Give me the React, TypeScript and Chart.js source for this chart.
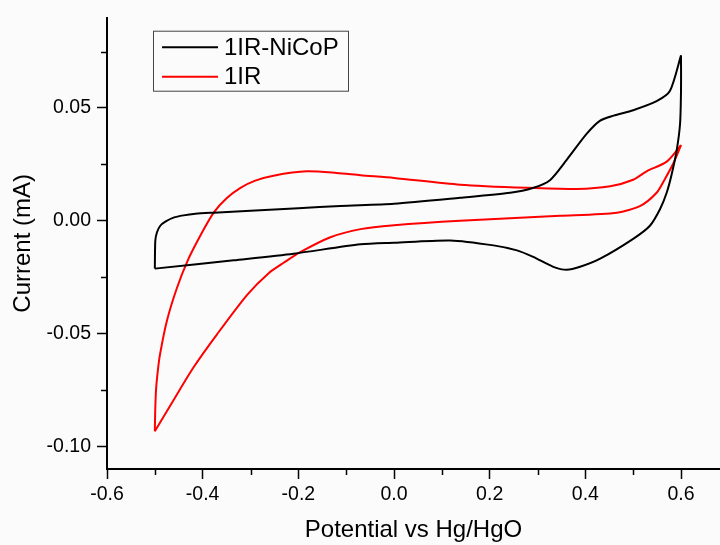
import React, { useEffect, useRef } from "react";
import { Chart, registerables } from "chart.js";

Chart.register(...registerables);

// ---- Data ----
const seriesNames = ["1IR-NiCoP", "1IR"];
const seriesColors = ["#000000", "#ff0000"];

// 1IR-NiCoP : anodic sweep (-0.5 -> 0.6)
const nicopFwdX = [-0.5, -0.499, -0.4955, -0.4886, -0.478, -0.461, -0.44, -0.415, -0.377, -0.3, -0.2, -0.112, 0.0, 0.138, 0.243, 0.29, 0.326, 0.361, 0.403, 0.431, 0.459, 0.5, 0.549, 0.577, 0.6];
const nicopFwdY = [-0.0212, -0.0088, -0.0051, -0.0022, -0.0004, 0.0014, 0.0024, 0.0031, 0.0036, 0.0045, 0.0056, 0.0066, 0.0076, 0.0102, 0.0124, 0.0145, 0.018, 0.027, 0.0386, 0.0444, 0.0466, 0.049, 0.053, 0.0576, 0.0733];
// 1IR-NiCoP : cathodic sweep (0.6 -> -0.5)
const nicopRevX = [0.6, 0.6, 0.598, 0.591, 0.581, 0.57, 0.556, 0.535, 0.5, 0.431, 0.389, 0.361, 0.333, 0.291, 0.257, 0.208, 0.118, 0.0, -0.07, -0.21, -0.335, -0.5];
const nicopRevY = [0.0733, 0.058, 0.043, 0.0313, 0.0211, 0.0124, 0.0051, -0.0022, -0.008, -0.0168, -0.0204, -0.0217, -0.0204, -0.016, -0.0131, -0.0109, -0.0087, -0.0097, -0.0104, -0.0146, -0.0175, -0.0212];

// 1IR : anodic sweep (-0.5 -> 0.6)
const irFwdX = [-0.5, -0.4993, -0.4975, -0.4935, -0.489, -0.475, -0.454, -0.43, -0.405, -0.377, -0.35, -0.321, -0.29, -0.252, -0.182, -0.12, -0.07, 0.0, 0.138, 0.278, 0.382, 0.452, 0.5, 0.528, 0.57, 0.6];
const irFwdY = [-0.0933, -0.085, -0.075, -0.066, -0.059, -0.0445, -0.0299, -0.017, -0.0066, 0.0036, 0.01, 0.0146, 0.0178, 0.02, 0.0219, 0.0212, 0.0202, 0.019, 0.016, 0.0146, 0.0141, 0.0153, 0.0182, 0.0219, 0.0262, 0.0335];
// 1IR : cathodic sweep (0.6 -> -0.5)
const irRevX = [0.6, 0.584, 0.565, 0.549, 0.515, 0.466, 0.347, 0.138, 0.0, -0.07, -0.133, -0.196, -0.23, -0.262, -0.307, -0.37, -0.419, -0.461, -0.5];
const irRevY = [0.0335, 0.0255, 0.018, 0.0124, 0.0066, 0.0036, 0.0022, 0.0, -0.002, -0.0037, -0.0073, -0.0139, -0.0185, -0.0232, -0.0328, -0.0503, -0.0649, -0.0795, -0.0933];

const xTickValues = [-0.6, -0.4, -0.2, 0.0, 0.2, 0.4, 0.6];
const xTickLabels = ["-0.6", "-0.4", "-0.2", "0.0", "0.2", "0.4", "0.6"];
const xMinorTicks = [-0.5, -0.3, -0.1, 0.1, 0.3, 0.5];
const yTickValues = [-0.1, -0.05, 0.0, 0.05];
const yTickLabels = ["-0.10", "-0.05", "0.00", "0.05"];
const yMinorTicks = [-0.075, -0.025, 0.025, 0.075];

const xTitle = "Potential vs Hg/HgO";
const yTitle = "Current (mA)";

const toPoints = (xs: number[], ys: number[]) => xs.map((x, i) => ({ x, y: ys[i] }));

const FONT = "'Liberation Sans', Arial, sans-serif";

const bgPlugin = {
  id: "bg",
  beforeDraw(chart: any) {
    const ctx = chart.ctx;
    ctx.save();
    ctx.fillStyle = "#fbfbfb";
    ctx.fillRect(0, 0, chart.width, chart.height);
    ctx.restore();
  },
};

const minorTickPlugin = {
  id: "minorTicks",
  afterDraw(chart: any) {
    const ctx = chart.ctx;
    const xs = chart.scales.x;
    const ys = chart.scales.y;
    const ca = chart.chartArea;
    ctx.save();
    ctx.strokeStyle = "#000";
    ctx.lineWidth = 1.5;
    ctx.beginPath();
    xMinorTicks.forEach((v) => {
      const px = Math.round(xs.getPixelForValue(v)) + 0.5;
      ctx.moveTo(px, ca.bottom);
      ctx.lineTo(px, ca.bottom + 6);
    });
    yMinorTicks.forEach((v) => {
      const py = Math.round(ys.getPixelForValue(v)) + 0.5;
      ctx.moveTo(ca.left, py);
      ctx.lineTo(ca.left - 6, py);
    });
    ctx.stroke();
    ctx.restore();
  },
};

const legendBoxPlugin = {
  id: "legendBox",
  afterDraw(chart: any) {
    const ctx = chart.ctx;
    const ca = chart.chartArea;
    const bx = ca.left + 46;
    const by = ca.top + 13;
    ctx.save();
    ctx.strokeStyle = "#444";
    ctx.lineWidth = 1;
    ctx.strokeRect(bx + 0.5, by + 0.5, 195, 60);
    ctx.font = `24px ${FONT}`;
    ctx.textBaseline = "middle";
    seriesNames.forEach((name, i) => {
      const y = by + 16.5 + i * 29.5;
      ctx.strokeStyle = seriesColors[i];
      ctx.lineWidth = 2;
      ctx.beginPath();
      ctx.moveTo(bx + 9, y);
      ctx.lineTo(bx + 65, y);
      ctx.stroke();
      ctx.fillStyle = "#000";
      ctx.fillText(name, bx + 71, y + 1);
    });
    ctx.restore();
  },
};

export default function App() {
  const canvasRef = useRef<HTMLCanvasElement | null>(null);

  useEffect(() => {
    document.body.style.margin = "0";
    const canvas = canvasRef.current;
    if (!canvas) return;
    const lineDs = (label: string, xs: number[], ys: number[], color: string) => ({
      label,
      data: toPoints(xs, ys),
      borderColor: color,
      backgroundColor: color,
      borderWidth: 2,
      pointRadius: 0,
      showLine: true,
      tension: 0.25,
      fill: false,
    });
    const chart = new Chart(canvas, {
      type: "scatter",
      data: {
        datasets: [
          lineDs(seriesNames[0], nicopFwdX, nicopFwdY, seriesColors[0]),
          lineDs(seriesNames[0], nicopRevX, nicopRevY, seriesColors[0]),
          lineDs(seriesNames[1], irFwdX, irFwdY, seriesColors[1]),
          lineDs(seriesNames[1], irRevX, irRevY, seriesColors[1]),
        ],
      },
      options: {
        animation: false,
        responsive: false,
        devicePixelRatio: 1,
        layout: { padding: { left: 0, right: 0, top: 13, bottom: 0 } },
        plugins: {
          legend: { display: false },
          tooltip: { enabled: false },
        },
        scales: {
          x: {
            type: "linear",
            min: -0.6,
            max: 0.6815,
            afterBuildTicks: (scale: any) => {
              scale.ticks = xTickValues.map((v) => ({ value: v }));
            },
            afterFit: (scale: any) => {
              scale.height = 76;
            },
            ticks: {
              callback: (_v: any, i: number) => xTickLabels[i],
              font: { family: FONT, size: 19.5 },
              color: "#000",
              padding: 4,
              maxRotation: 0,
              autoSkip: false,
            },
            grid: {
              display: true,
              drawOnChartArea: false,
              drawTicks: true,
              tickLength: 10,
              tickColor: "#000",
              tickWidth: 1.5,
            },
            border: { display: true, color: "#000", width: 2 },
            title: {
              display: true,
              text: xTitle,
              font: { family: FONT, size: 24 },
              color: "#000",
              padding: { top: 0, bottom: 0 },
            },
          },
          y: {
            type: "linear",
            min: -0.11,
            max: 0.09,
            afterBuildTicks: (scale: any) => {
              scale.ticks = yTickValues.map((v) => ({ value: v }));
            },
            afterFit: (scale: any) => {
              scale.width = 107;
            },
            ticks: {
              callback: (_v: any, i: number) => yTickLabels[i],
              font: { family: FONT, size: 19.5 },
              color: "#000",
              padding: 6,
              autoSkip: false,
            },
            grid: {
              display: true,
              drawOnChartArea: false,
              drawTicks: true,
              tickLength: 10,
              tickColor: "#000",
              tickWidth: 1.5,
            },
            border: { display: true, color: "#000", width: 2 },
            title: {
              display: true,
              text: yTitle,
              font: { family: FONT, size: 24 },
              color: "#000",
              padding: { top: 9, bottom: 0 },
            },
          },
        },
      },
      plugins: [bgPlugin, minorTickPlugin, legendBoxPlugin],
    });
    return () => chart.destroy();
  }, []);

  return (
    <canvas
      ref={canvasRef}
      width={720}
      height={545}
      style={{ display: "block", width: 720, height: 545 }}
    />
  );
}
